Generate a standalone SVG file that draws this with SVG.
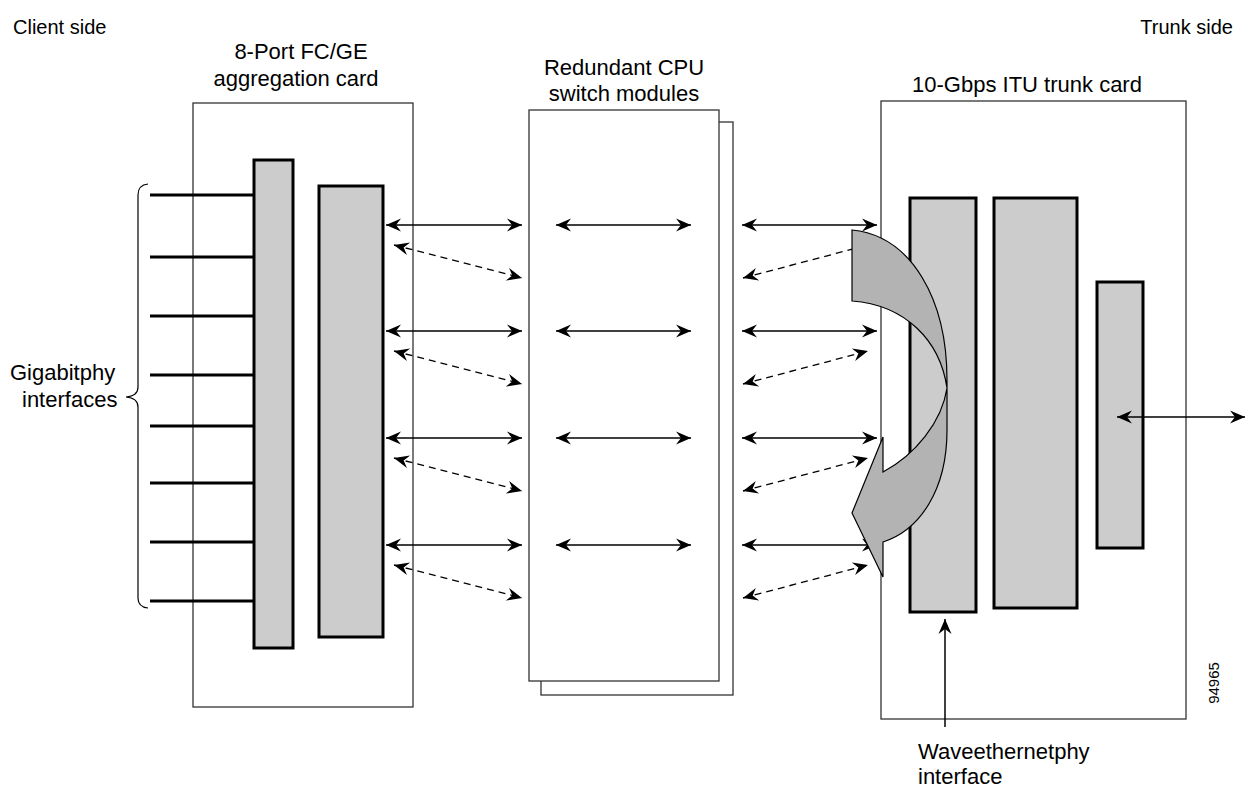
<svg xmlns="http://www.w3.org/2000/svg" width="1246" height="790" viewBox="0 0 1246 790">
<style>
text{font-family:"Liberation Sans",Arial,sans-serif;font-size:22px;fill:#000}
.card{fill:#fff;stroke:#333;stroke-width:1.3}
.bar{fill:#ccc;stroke:#000;stroke-width:3}
.port{stroke:#000;stroke-width:3}
.sol{stroke:#000;stroke-width:1.5;fill:none;marker-start:url(#ah);marker-end:url(#ah)}
.dsh{stroke:#000;stroke-width:1.3;fill:none;stroke-dasharray:7 5;marker-start:url(#ah);marker-end:url(#ah)}
</style>
<defs>
<marker id="ah" viewBox="-16 -8 17 16" refX="0" refY="0" markerWidth="17" markerHeight="16" markerUnits="userSpaceOnUse" orient="auto-start-reverse">
<path d="M0,0 L-15,-6.5 L-10,0 L-15,6.5 Z" fill="#000"/>
</marker>
</defs>
<rect width="1246" height="790" fill="#fff"/>

<g id="labels">
<text x="13" y="34" style="font-size:20px">Client side</text>
<text x="1233" y="34" text-anchor="end" style="font-size:20px">Trunk side</text>
<text x="10" y="380">Gigabitphy</text>
<text x="22" y="407">interfaces</text>
</g>

<g id="client-card">
<rect class="card" x="193" y="103" width="220" height="604"/>
<text x="301" y="59" text-anchor="middle">8-Port FC/GE</text>
<text x="296" y="86" text-anchor="middle">aggregation card</text>
<g id="ports">
<line class="port" x1="150" y1="195" x2="254" y2="195"/>
<line class="port" x1="150" y1="257" x2="254" y2="257"/>
<line class="port" x1="150" y1="316" x2="254" y2="316"/>
<line class="port" x1="150" y1="375" x2="254" y2="375"/>
<line class="port" x1="150" y1="426" x2="254" y2="426"/>
<line class="port" x1="150" y1="483" x2="254" y2="483"/>
<line class="port" x1="150" y1="542" x2="254" y2="542"/>
<line class="port" x1="150" y1="601" x2="254" y2="601"/>
</g>
<rect class="bar" x="254" y="160" width="39" height="488"/>
<rect class="bar" x="319" y="186" width="64" height="451"/>
<path d="M148,184 Q138,185 138,195 L138,387 Q138,396 126,397 Q138,398 138,407 L138,598 Q138,607 148,608" fill="none" stroke="#000" stroke-width="1.2"/>
</g>

<g id="cpu-modules">
<rect class="card" x="541" y="122" width="192" height="573"/>
<rect class="card" x="529" y="110" width="190" height="571"/>
<text x="624" y="75" text-anchor="middle">Redundant CPU</text>
<text x="624" y="101" text-anchor="middle">switch modules</text>
</g>

<g id="trunk-card">
<rect class="card" x="881" y="101" width="305" height="618"/>
<text x="1027" y="92" text-anchor="middle">10-Gbps ITU trunk card</text>
<rect class="bar" x="910" y="198" width="66" height="414"/>
<rect class="bar" x="994" y="198" width="83" height="410"/>
<rect class="bar" x="1097" y="282" width="46" height="266"/>
<text x="1219" y="683" text-anchor="middle" transform="rotate(-90 1219 683)" style="font-size:15px">94965</text>
</g>

<g id="connectors">
<line class="sol" x1="386" y1="225" x2="522" y2="225"/>
<line class="sol" x1="386" y1="331" x2="522" y2="331"/>
<line class="sol" x1="386" y1="438" x2="522" y2="438"/>
<line class="sol" x1="386" y1="545" x2="522" y2="545"/>
<line class="dsh" x1="394" y1="245" x2="522" y2="278"/>
<line class="dsh" x1="394" y1="351" x2="522" y2="384"/>
<line class="dsh" x1="394" y1="458" x2="522" y2="491"/>
<line class="dsh" x1="394" y1="565" x2="522" y2="598"/>
<line class="sol" x1="556" y1="225" x2="691" y2="225"/>
<line class="sol" x1="556" y1="331" x2="691" y2="331"/>
<line class="sol" x1="556" y1="438" x2="691" y2="438"/>
<line class="sol" x1="556" y1="545" x2="691" y2="545"/>
<line class="sol" x1="742" y1="225" x2="877" y2="225"/>
<line class="sol" x1="742" y1="331" x2="877" y2="331"/>
<line class="sol" x1="742" y1="438" x2="877" y2="438"/>
<line class="sol" x1="742" y1="545" x2="877" y2="545"/>
<line class="dsh" x1="743" y1="278" x2="868" y2="245"/>
<line class="dsh" x1="743" y1="384" x2="868" y2="351"/>
<line class="dsh" x1="743" y1="491" x2="868" y2="458"/>
<line class="dsh" x1="743" y1="598" x2="868" y2="565"/>
<line class="sol" x1="1117" y1="417" x2="1245" y2="417"/>
<line x1="945" y1="727" x2="945" y2="619" stroke="#000" stroke-width="1.5" marker-end="url(#ah)"/>
</g>

<g id="ring-arrow">
<path d="M852,230 C912,236 947,300 947,380 L947,430 C947,490 920,530 883,542 L883,577 L852,513 L883,437 L883,472 C915,455 942,422 947,388 C940,340 905,305 852,301 Z" fill="#b3b3b3" stroke="#000" stroke-width="1.2"/>
</g>

<g id="wave-label">
<text x="918" y="759">Waveethernetphy</text>
<text x="918" y="784">interface</text>
</g>
</svg>
